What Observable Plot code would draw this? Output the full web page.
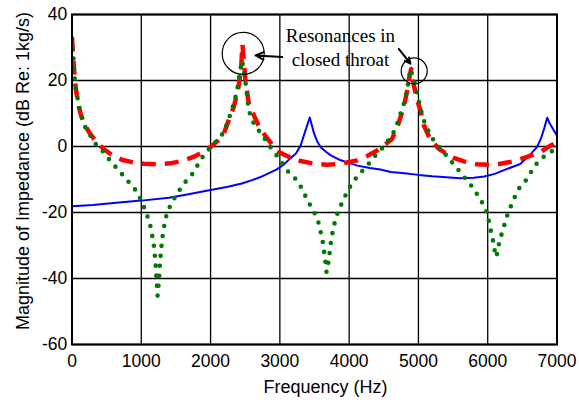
<!DOCTYPE html>
<html><head><meta charset="utf-8">
<script src="https://cdn.jsdelivr.net/npm/d3@7"></script>
<script src="https://cdn.jsdelivr.net/npm/@observablehq/plot@0.6"></script>
<style>
body{margin:0;background:#fff}
svg{display:block}
</style>
</head><body><div id="chart"></div>
<script>
// ---- tick labels ----
const freqTicks = [0, 1000, 2000, 3000, 4000, 5000, 6000, 7000];
const dbTicks = [-60, -40, -20, 0, 20, 40];
const xLabel = "Frequency (Hz)";
const yLabel = "Magnitude of Impedance (dB Re: 1kg/s)";
const noteText = "Resonances in\nclosed throat";

// ---- blue solid series ----
const blueFreq = [0,300,600,1000,1400,1700,2000,2250,2450,2600,2750,2850,2950,3050,3150,3230,3300,3370,3432,3490,3540,3590,3660,3730,3870,3970,4120,4300,4450,4600,4800,5000,5200,5400,5600,5800,5950,6100,6280,6470,6620,6710,6770,6820,6858,6900,6950,7000];
const blueDb   = [-18.1,-17.7,-17.1,-16.4,-15.5,-14.4,-13.2,-12.2,-11.2,-10.2,-9.0,-8.0,-7.0,-5.6,-3.6,-2.2,0.3,4.9,8.8,4.2,1.5,-0.2,-1.5,-2.6,-4.1,-4.8,-5.8,-6.5,-7.0,-7.7,-8.1,-8.6,-9.0,-9.3,-9.6,-9.5,-9.1,-8.3,-6.8,-5.3,-2.3,-0.2,2.5,5.8,8.7,6.8,5.0,3.3];

// ---- red dashed series ----
const redFreq = [0,15,40,70,100,130,185,250,300,370,450,550,720,900,1036,1230,1420,1600,1760,1880,2000,2100,2190,2263,2335,2384,2410,2442,2460,2480,2504,2552,2624,2700,2817,2910,3000,3153,3300,3490,3670,3780,3950,4116,4250,4405,4500,4620,4693,4789,4838,4870,4895,4920,4982,5030,5077,5174,5222,5300,5414,5500,5655,5848,6000,6137,6300,6425,6600,6762,6900,7000];
const redDb   = [33,28,20,15.5,12,9.5,6.5,4.2,2.8,1.0,-0.6,-2.2,-4.0,-4.9,-5.2,-5.4,-5.1,-4.3,-3.1,-1.8,-0.2,1.7,3.9,8.0,12.0,16.0,19.0,24.0,31.0,26.0,20.0,13.0,9.5,6.0,2.5,0.0,-1.8,-3.4,-4.4,-5.2,-5.5,-5.4,-4.9,-4.2,-3.0,-1.2,0.3,2.3,5.8,11.9,17.0,21.0,23.5,20.0,13.9,11.0,6.5,2.0,1.0,-0.8,-2.3,-3.4,-4.5,-5.4,-5.5,-5.4,-4.8,-4.2,-2.9,-1.7,0.2,1.3];

// ---- green dotted series ----
const greenFreq = [0,26,45,65,98,127,185,253,300,368,459,520,600,700,820,930,1013,1085,1123,1157,1185,1205,1220,1235,1255,1268,1285,1305,1335,1374,1446,1500,1613,1758,1854,1974,2095,2191,2263,2335,2384,2422,2456,2504,2552,2624,2696,2768,2865,3009,3106,3226,3322,3394,3467,3514,3550,3580,3600,3622,3636,3650,3662,3673,3694,3710,3724,3735,3752,3775,3810,3851,3899,3947,3995,4067,4139,4211,4283,4356,4452,4524,4596,4669,4741,4789,4813,4846,4885,4930,4972,5030,5077,5174,5270,5366,5450,5520,5607,5703,5799,5896,5960,5992,6016,6040,6064,6085,6100,6126,6145,6165,6194,6230,6256,6290,6328,6370,6448,6569,6665,6762,6881,6953,7000];
const greenDb   = [32.7,25.4,18.7,16.5,12.4,9.7,6.1,3.8,2.0,0.0,-1.7,-3.5,-5.5,-7.8,-10.8,-13.5,-16.9,-20.9,-23.2,-27,-30.5,-35,-40,-45.2,-40.6,-36,-31.5,-27.5,-23.5,-19.8,-16.9,-14.8,-11.3,-7.8,-4.0,-0.9,1.8,4.3,8.4,12.9,17,22.5,26,19.5,10.9,6.9,4.8,2.8,-0.2,-4.2,-7.3,-9.8,-12.8,-16.2,-18.8,-20.7,-22.4,-25,-27,-29.2,-31.5,-33.5,-35.8,-38.1,-36,-33.5,-31.5,-29.3,-27,-24.5,-21.5,-19.2,-17,-14.8,-12.8,-10.3,-8.8,-6.8,-5.2,-3.2,-1.2,0.8,2.6,5.4,9.9,12.9,14.5,18.5,23.5,20.5,17,11.4,7.9,3.3,0.5,-1.8,-3.8,-5.8,-7.8,-10.3,-12.8,-16.2,-18.3,-20.4,-22.6,-25,-27.3,-29.4,-31.5,-33.5,-31.4,-29.3,-27,-24.6,-22.4,-20.4,-18.4,-16.2,-12.8,-9.8,-6.3,-3.7,-2.2,-1.0,-0.7];

// ---- annotation anchors (data space) ----
const circleFreq = [2471, 4939];
const circleDb = [28.2, 22.9];
const circleR = [21, 13];
const arrowFrom = [[3034, 27.1], [4716, 29.6]];
const arrowTo = [[2648, 27.6], [4885, 25.1]];
const noteAt = [3875, 24.5];

const rows = (fs, vs) => fs.map((f, i) => ({f, v: vs[i]}));
const blue = rows(blueFreq, blueDb);
const red = rows(redFreq, redDb);
const green = rows(greenFreq, greenDb);
const arrows = arrowFrom.map((a, i) => ({x1: a[0], y1: a[1], x2: arrowTo[i][0], y2: arrowTo[i][1]}));

const sans = "'Liberation Sans', Arial, sans-serif";
const serif = "'Liberation Serif', 'Times New Roman', serif";
const plain = d => String(d);

const chart = Plot.plot({
  width: 579,
  height: 402,
  marginLeft: 71.5,
  marginRight: 22.5,
  marginTop: 14,
  marginBottom: 58,
  style: {fontFamily: sans, background: "#fff", color: "#000"},
  x: {domain: [0, 7000]},
  y: {domain: [-60, 40]},
  marks: [
    Plot.gridX(freqTicks, {stroke: "#000", strokeOpacity: 1, strokeWidth: 1.3}),
    Plot.gridY(dbTicks, {stroke: "#000", strokeOpacity: 1, strokeWidth: 1.3}),
    Plot.line(blue, {x: "f", y: "v", stroke: "#0000ff", strokeWidth: 2, clip: true}),
    Plot.line(red, {x: "f", y: "v", stroke: "#ff0000", strokeWidth: 4.5, strokeDasharray: "14,9", strokeLinecap: "butt", clip: true}),
    Plot.line(green, {x: "f", y: "v", stroke: "#007a00", strokeWidth: 4.6, strokeDasharray: "0,10", strokeLinecap: "round", clip: true}),
    Plot.frame({stroke: "#000", strokeWidth: 2}),
    Plot.axisX(freqTicks, {tickSize: 0, tickPadding: 10.3, fontSize: 17.5, label: null, fill: "#000", tickFormat: plain}),
    Plot.axisY(dbTicks, {tickSize: 0, tickPadding: 4.8, fontSize: 17.5, label: null, fill: "#000", tickFormat: plain}),
    Plot.text([xLabel], {frameAnchor: "bottom", lineAnchor: "bottom", dy: 48, dx: 11, fontSize: 18, fill: "#000"}),
    Plot.text([yLabel], {frameAnchor: "left", rotate: -90, textAnchor: "middle", lineAnchor: "bottom", dx: -43.5, dy: -8.5, fontSize: 18, fill: "#000"}),
    Plot.dot([0], {x: i => circleFreq[i], y: i => circleDb[i], r: circleR[0], stroke: "#000", fill: "none", strokeWidth: 1.2}),
    Plot.dot([1], {x: i => circleFreq[i], y: i => circleDb[i], r: circleR[1], stroke: "#000", fill: "none", strokeWidth: 1.2}),
    Plot.arrow(arrows, {x1: "x1", y1: "y1", x2: "x2", y2: "y2", stroke: "#000", strokeWidth: 2, headLength: 10, headAngle: 50}),
    Plot.text([noteText], {x: () => noteAt[0], y: () => noteAt[1], textAnchor: "middle", lineAnchor: "bottom", lineHeight: 1.23, fontSize: 19, fontFamily: serif, fill: "#000"})
  ]
});
document.getElementById("chart").appendChild(chart);
</script>
</body></html>
